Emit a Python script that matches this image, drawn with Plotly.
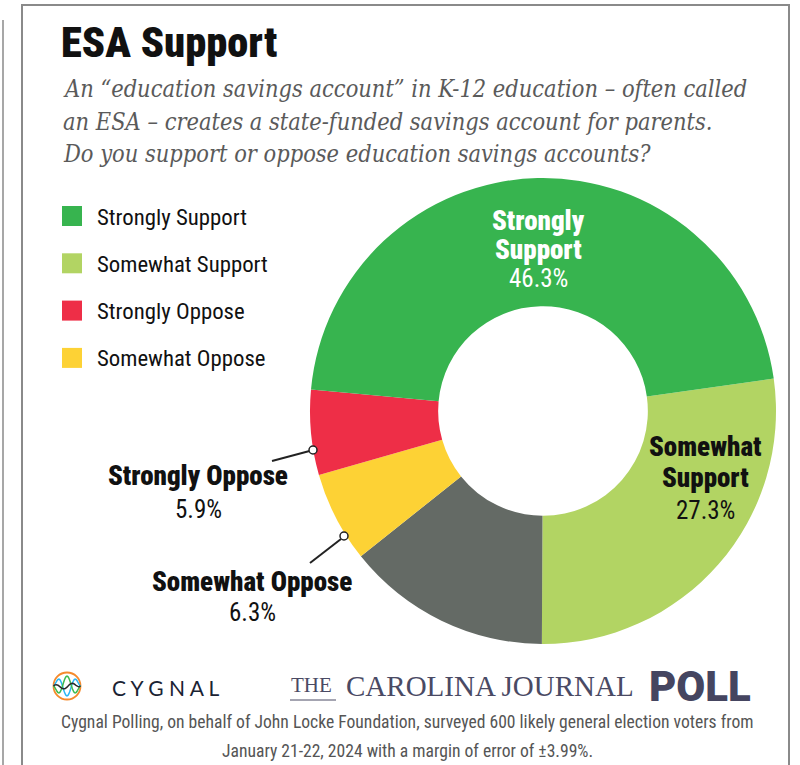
import plotly.graph_objects as go
import math

# ---- data ----
categories = ["Somewhat Support", "Unsure", "Somewhat Oppose", "Strongly Oppose", "Strongly Support"]
values = [27.3, 14.2, 6.3, 5.9, 46.3]
colors = ["#B2D463", "#646A65", "#FDD235", "#EE2E47", "#37B44F"]
legend_items = ["Strongly Support", "Somewhat Support", "Strongly Oppose", "Somewhat Oppose"]
legend_colors = ["#37B44F", "#B2D463", "#EE2E47", "#FDD235"]

W, H = 800, 765
def px(x):
    return x / W
def py(y):
    return 1 - y / H

COND = "Roboto Condensed, Liberation Sans Narrow, DejaVu Sans Condensed, Roboto, sans-serif"
SLAB = "DejaVu Serif Condensed, DejaVu Serif, serif"

cx, cy, R = 543, 411, 233
fig = go.Figure(go.Pie(
    labels=categories, values=values, sort=False, direction="clockwise", rotation=82,
    hole=0.45, marker=dict(colors=colors, line=dict(width=0)),
    textinfo="none", showlegend=False,
    domain=dict(x=[px(cx - R), px(cx + R)], y=[py(cy + R), py(cy - R)]),
))

shapes = []
ann = []
# frame
shapes.append(dict(type="rect", xref="paper", yref="paper", x0=px(22), x1=px(789), y0=py(790), y1=py(5),
                   line=dict(color="#8a8a8a", width=2), fillcolor="rgba(0,0,0,0)", layer="below"))
shapes.append(dict(type="line", xref="paper", yref="paper", x0=px(3), x1=px(3), y0=py(20), y1=py(765),
                   line=dict(color="#8a8a8a", width=1.5)))

# title
ann.append(dict(text="ESA Support", x=px(59), y=py(42), xanchor="left", yanchor="middle",
                font=dict(family=COND, size=42.5, color="#111", weight=900)))
sub = ["An “education savings account” in K-12 education – often called",
       "an ESA – creates a state-funded savings account for parents.",
       "Do you support or oppose education savings accounts?"]
for i, s in enumerate(sub):
    ann.append(dict(text="<i>" + s + "</i>", x=px(61), y=py(89 + 32.5 * i), xanchor="left", yanchor="middle",
                    font=dict(family=SLAB, size=23.4, color="#5a5a5a")))

# legend
for i, (lab, col) in enumerate(zip(legend_items, legend_colors)):
    yc = 216 + 47.3 * i
    shapes.append(dict(type="rect", xref="paper", yref="paper", x0=px(62), x1=px(82), y0=py(yc + 10), y1=py(yc - 10),
                       fillcolor=col, line=dict(width=0)))
    ann.append(dict(text=lab, x=px(95), y=py(yc + 1), xanchor="left", yanchor="middle",
                    font=dict(family=COND, size=22.8, color="#111", weight=400)))

val = dict(zip(categories, values))
# slice labels
def lbl(lines, xc, ys, color, bold_n):
    for j, (t, yy) in enumerate(zip(lines, ys)):
        if j < bold_n:
            f = dict(family=COND, size=27, color=color, weight=900)
        else:
            f = dict(family=COND, size=25, color=color)
        ann.append(dict(text=t, x=px(xc), y=py(yy), xanchor="center", yanchor="middle", font=f))

lbl(["Strongly", "Support", f"{val['Strongly Support']}%"], 538, [221, 250, 278], "white", 2)
lbl(["Somewhat", "Support", f"{val['Somewhat Support']}%"], 705, [447, 478, 511], "#111", 2)
lbl(["Strongly Oppose", f"{val['Strongly Oppose']}%"], 198, [476, 509], "#111", 1)
lbl(["Somewhat Oppose", f"{val['Somewhat Oppose']}%"], 252, [582, 612], "#111", 1)

# leader lines
for (x0, y0, x1, y1) in [(272, 461, 309.5, 451), (310, 563, 341, 539)]:
    shapes.append(dict(type="line", xref="paper", yref="paper", x0=px(x0), y0=py(y0), x1=px(x1), y1=py(y1),
                       line=dict(color="#222", width=2)))
for (xc, yc) in [(313, 450), (344, 536)]:
    shapes.append(dict(type="circle", xref="paper", yref="paper", x0=px(xc - 4), x1=px(xc + 4), y0=py(yc + 4), y1=py(yc - 4),
                       line=dict(color="#222", width=1.5), fillcolor="white"))

# Cygnal logo
lx, ly, lr = 67, 686, 13.5
shapes.append(dict(type="circle", xref="paper", yref="paper", x0=px(lx - lr), x1=px(lx + lr), y0=py(ly + lr), y1=py(ly - lr),
                   line=dict(color="#F58A2C", width=1.8)))
def wave(amp, phase, color):
    pts = []
    n = 30
    for k in range(n + 1):
        t = k / n
        xx = lx - lr + 2 * lr * t
        yy = ly - amp * math.sin(2 * math.pi * 1.5 * t + phase) * math.sin(math.pi * t) ** 0.6
        pts.append((px(xx), py(yy)))
    path = "M " + " L ".join(f"{a:.5f},{b:.5f}" for a, b in pts)
    shapes.append(dict(type="path", xref="paper", yref="paper", path=path, line=dict(color=color, width=1.5)))
wave(10, 0, "#29B6F6")
wave(10, 3.14159, "#3DBA4E")
wave(3, 1.2, "#2a2a2a")
ann.append(dict(text="C Y G N A L", x=px(110), y=py(687), xanchor="left", yanchor="middle",
                font=dict(family="Lato, Open Sans, sans-serif", size=21, color="#1a2333")))

# Carolina Journal Poll
ann.append(dict(text="THE", x=px(289), y=py(685), xanchor="left", yanchor="middle",
                font=dict(family="Liberation Serif, serif", size=21, color="#4a4a64")))
shapes.append(dict(type="line", xref="paper", yref="paper", x0=px(290), x1=px(336), y0=py(700), y1=py(700),
                   line=dict(color="#4a4a64", width=1)))
ann.append(dict(text="CAROLINA JOURNAL", x=px(344), y=py(686), xanchor="left", yanchor="middle",
                font=dict(family="Liberation Serif, serif", size=29, color="#4a4a64")))
ann.append(dict(text="POLL", x=px(753), y=py(686), xanchor="right", yanchor="middle",
                font=dict(family="Roboto, sans-serif", size=42, color="#454560", weight=900)))

# footer
foot = ["Cygnal Polling, on behalf of John Locke Foundation, surveyed 600 likely general election voters from",
        "January 21-22, 2024 with a margin of error of ±3.99%."]
for i, s in enumerate(foot):
    ann.append(dict(text=s, x=px(407), y=py(722 + 29 * i), xanchor="center", yanchor="middle",
                    font=dict(family=COND, size=17.6, color="#555")))

for a in ann:
    a.update(xref="paper", yref="paper", showarrow=False)

fig.update_layout(width=W, height=H, margin=dict(l=0, r=0, t=0, b=0),
                  paper_bgcolor="white", plot_bgcolor="white",
                  shapes=shapes, annotations=ann)
fig.write_html("out.html")
